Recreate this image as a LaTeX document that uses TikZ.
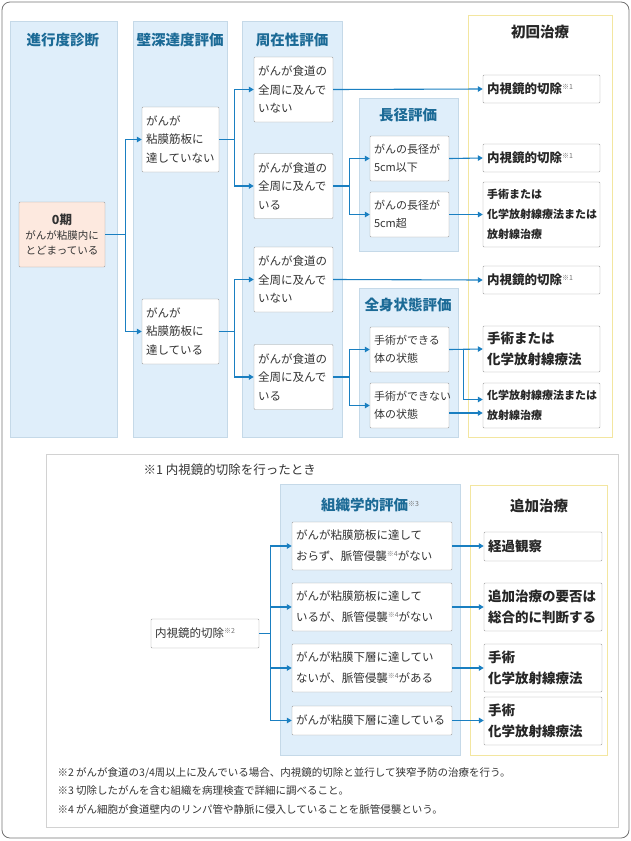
\documentclass[tikz,border=0pt]{standalone}
\usepackage{fontspec}
\setmainfont{Noto Sans CJK JP}
\usetikzlibrary{arrows.meta,calc}
\definecolor{colbg}{HTML}{DFEEFA}
\definecolor{colline}{HTML}{C5D9E8}
\definecolor{ttlblue}{HTML}{1B6A96}
\definecolor{arr}{HTML}{1A7FC1}
\definecolor{yel}{HTML}{F3E6A0}
\definecolor{stagebg}{HTML}{FDE9DF}
\newcommand\chu[1]{\raisebox{4pt}{\fontsize{7}{7}\selectfont\mdseries\color{black!55}※#1}}
\tikzset{
  panel/.style={fill=colbg, draw=colline},
  treat/.style={draw=yel, line width=0.9pt},
  ttl/.style={font=\bfseries\fontsize{14.5}{16}\selectfont, text=ttlblue},
  box/.style={draw=gray!75, fill=white, rounded corners=1pt, align=left, inner sep=4pt,
    text=black!80, font=\fontsize{11.5}{18.5}\selectfont},
  tbox/.style={box, font=\bfseries\fontsize{12.5}{20}\selectfont, text=black!85},
  link/.style={draw=arr, line width=1.1pt, -{Triangle[length=5pt,width=5.5pt]}},
}
\begin{document}
\begin{tikzpicture}[x=1pt,y=-1pt]
  \useasboundingbox (0,0) rectangle (631,841);
  \draw[gray!90!black, rounded corners=8pt, line width=0.8pt] (2,2) rectangle (629,838);
  % columns
  \draw[panel] (10,21) rectangle (117,437);
  \draw[panel] (133,21) rectangle (227,437);
  \draw[panel] (242,21) rectangle (342,437);
  \draw[panel] (359,98) rectangle (458,251);
  \draw[panel] (359,288) rectangle (458,437);
  \draw[treat] (468,15) rectangle (612,437);
  \node[ttl] at (63,40) {進行度診断};
  \node[ttl] at (180,40) {壁深達度評価};
  \node[ttl] at (292,40) {周在性評価};
  \node[ttl] at (408,115) {長径評価};
  \node[ttl] at (408,305) {全身状態評価};
  \node[ttl, text=black!85] at (540,32) {初回治療};
  % boxes
  \node[box, fill=stagebg, text width=78, minimum height=65] (stage) at (62,234.5)
    {\centering{\bfseries\fontsize{12.5}{16}\selectfont 0期}\\\fontsize{10.5}{15}\selectfont がんが粘膜内に\\とどまっている\par};
  \node[box, text width=69, minimum height=65] (mm1) at (180.5,139.5) {がんが\\粘膜筋板に\\達していない};
  \node[box, text width=69, minimum height=65] (mm2) at (180.5,331.5) {がんが\\粘膜筋板に\\達している};
  \node[box, text width=71, minimum height=65] (cir1) at (293.5,89.5) {がんが食道の\\全周に及んで\\いない};
  \node[box, text width=71, minimum height=65] (cir2) at (293.5,186) {がんが食道の\\全周に及んで\\いる};
  \node[box, text width=71, minimum height=65] (cir3) at (293.5,279.5) {がんが食道の\\全周に及んで\\いない};
  \node[box, text width=71, minimum height=65] (cir4) at (293.5,377) {がんが食道の\\全周に及んで\\いる};
  \node[box, text width=71, minimum height=45, font=\fontsize{11}{18}\selectfont] (len1) at (409.5,158.5) {がんの長径が\\5cm以下};
  \node[box, text width=71, minimum height=45, font=\fontsize{11}{18}\selectfont] (len2) at (409.5,214.5) {がんの長径が\\5cm超};
  \node[box, text width=71, minimum height=45, font=\fontsize{11}{18}\selectfont] (ps1) at (409.5,349.5) {手術ができる\\体の状態};
  \node[box, text width=71, minimum height=45, font=\fontsize{11}{18}\selectfont] (ps2) at (409.5,405.5) {手術ができない\\体の状態};
  \node[tbox, text width=109, minimum height=28] (tr1) at (541.5,89) {内視鏡的切除\chu{1}};
  \node[tbox, text width=109, minimum height=28] (tr2) at (541.5,158) {内視鏡的切除\chu{1}};
  \node[tbox, text width=109, minimum height=65, font=\bfseries\fontsize{11}{20}\selectfont] (tr3) at (541.5,214.5) {手術または\\化学放射線療法または\\放射線治療};
  \node[tbox, text width=109, minimum height=28] (tr4) at (541.5,280) {内視鏡的切除\chu{1}};
  \node[tbox, text width=109, minimum height=46, font=\bfseries\fontsize{13.5}{21}\selectfont] (tr5) at (541.5,349) {手術または\\化学放射線療法};
  \node[tbox, text width=109, minimum height=45, font=\bfseries\fontsize{11}{20}\selectfont] (tr6) at (541.5,405.5) {化学放射線療法または\\放射線治療};
  % connectors
  \draw[link] (stage.east) -- ++(20,0) |- (mm1.west);
  \draw[link] (stage.east) -- ++(20,0) |- (mm2.west);
  \foreach \s/\a/\b in {mm1/cir1/cir2, mm2/cir3/cir4} {
    \draw[link] (\s.east) -- ++(15,0) |- (\a.west);
    \draw[link] (\s.east) -- ++(15,0) |- (\b.west);
  }
  \draw[link] (cir2.east) -- ++(16,0) |- (len1.west);
  \draw[link] (cir2.east) -- ++(16,0) |- (len2.west);
  \draw[link] (cir4.east) -- ++(16,0) |- (ps1.west);
  \draw[link] (cir4.east) -- ++(16,0) |- (ps2.west);
  \draw[link] (cir1.east) -- (tr1.west);
  \draw[link] (cir3.east) -- (tr4.west);
  \draw[link] (len1.east) -- (tr2.west);
  \draw[link] (len2.east) -- (tr3.west);
  \draw[link] (ps1.east) -- (tr5.west);
  \draw[link] (ps1.east) -- ++(14,0) |- ($(tr6.west)+(0,-6)$);
  \draw[link] ($(ps2.east)+(0,7.5)$) -- ($(tr6.west)+(0,7.5)$);
  % lower part
  \draw[gray!35, line width=0.8pt] (46,454) rectangle (618,827);
  \node[anchor=west, font=\fontsize{12.5}{14}\selectfont, text=black!80] at (140,470) {※1 内視鏡的切除を行ったとき};
  \draw[panel] (280,484) rectangle (460,755);
  \draw[treat] (470,485) rectangle (607,755);
  \node[ttl] at (370,505) {組織学的評価\chu{3}};
  \node[ttl, text=black!85] at (539,506) {追加治療};
  \node[box, text width=100, minimum height=29] (er) at (205,633.5) {内視鏡的切除\chu{2}};
  \node[box, text width=152, minimum height=48, font=\fontsize{11.5}{21}\selectfont] (hist1) at (372,546) {がんが粘膜筋板に達して\\おらず、脈管侵襲\chu{4}がない};
  \node[box, text width=152, minimum height=48, font=\fontsize{11.5}{21}\selectfont] (hist2) at (372,607) {がんが粘膜筋板に達して\\いるが、脈管侵襲\chu{4}がない};
  \node[box, text width=152, minimum height=48, font=\fontsize{11.5}{21}\selectfont] (hist3) at (372,668) {がんが粘膜下層に達してい\\ないが、脈管侵襲\chu{4}がある};
  \node[box, text width=152, minimum height=29] (hist4) at (372,720.5) {がんが粘膜下層に達している};
  \node[tbox, text width=110, minimum height=29, font=\bfseries\fontsize{13.5}{21}\selectfont] (add1) at (543,546.5) {経過観察};
  \node[tbox, text width=110, minimum height=48, font=\bfseries\fontsize{13.5}{21}\selectfont] (add2) at (543,607) {追加治療の要否は\\総合的に判断する};
  \node[tbox, text width=110, minimum height=48, font=\bfseries\fontsize{13.5}{21}\selectfont] (add3) at (543,668) {手術\\化学放射線療法};
  \node[tbox, text width=110, minimum height=48, font=\bfseries\fontsize{13.5}{21}\selectfont] (add4) at (543,721) {手術\\化学放射線療法};
  \foreach \i in {1,...,4} {
    \draw[link] (er.east) -- ++(11,0) |- (hist\i.west);
    \draw[link] (hist\i.east) -- (add\i.west |- hist\i.east);
  }
  \foreach \t/\y in {{※2 がんが食道の3/4周以上に及んでいる場合、内視鏡的切除と並行して狭窄予防の治療を行う。}/773,
                     {※3 切除したがんを含む組織を病理検査で詳細に調べること。}/791,
                     {※4 がん細胞が食道壁内のリンパ管や静脈に侵入していることを脈管侵襲という。}/809}
    \node[anchor=west, font=\fontsize{10.5}{11}\selectfont, text=black!80] at (54,\y) {\t};
\end{tikzpicture}
\end{document}
